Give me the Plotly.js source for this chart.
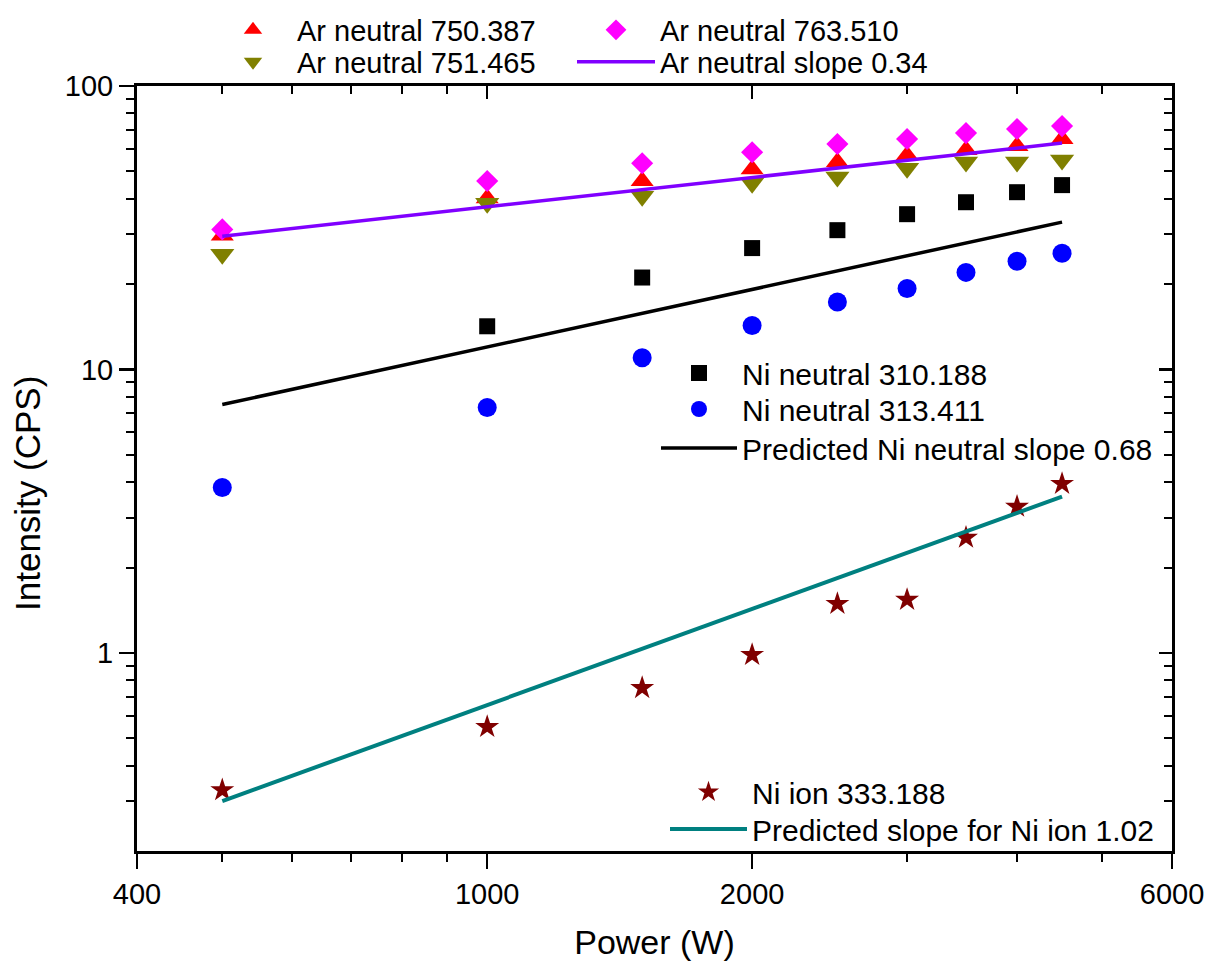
<!DOCTYPE html>
<html>
<head>
<meta charset="utf-8">
<script src="https://cdn.plot.ly/plotly-3.0.1.min.js"></script>
<style>
  html, body { margin: 0; padding: 0; background: #ffffff; }
  #chart { width: 1219px; height: 971px; }
</style>
</head>
<body>
<div id="chart"></div>
<script>
// ---- data ----
const power = [500, 1000, 1500, 2000, 2500, 3000, 3500, 4000, 4500];
const arNeutral750 = [29.7, 40.2, 46.2, 50.9, 53.9, 57.0, 59.4, 61.4, 65.0];
const arNeutral763 = [31.2, 46.2, 53.4, 58.4, 62.4, 65.0, 68.2, 70.5, 72.2];
const arNeutral751 = [25.5, 38.6, 40.8, 45.4, 47.7, 51.3, 53.9, 53.9, 54.8];
const niNeutral310 = [null, 14.2, 21.1, 26.8, 31.0, 35.3, 38.9, 42.2, 44.7];
const niNeutral313 = [3.83, 7.34, 11.0, 14.3, 17.3, 19.3, 22.0, 24.1, 25.7];
const niIon333 = [0.328, 0.548, 0.752, 0.984, 1.49, 1.54, 2.55, 3.28, 3.95];

const fitPower = [500, 4500];
const arSlopeFit = [29.5, 62.9];
const niNeutralSlopeFit = [7.52, 33.1];
const niIonSlopeFit = [0.300, 3.56];

const xTickVals = [400, 1000, 2000, 6000];
const xTickText = ['400', '1000', '2000', '6000'];
const xMinorVals = [500, 600, 700, 800, 900, 3000, 4000, 5000];
const yTickVals = [1, 10, 100];
const yTickText = ['1', '10', '100'];
const yMinorVals = [0.3, 0.4, 0.5, 0.6, 0.7, 0.8, 0.9, 2, 3, 4, 5, 6, 7, 8, 9, 20, 30, 40, 50, 60, 70, 80, 90];

const xTitle = 'Power (W)';
const yTitle = 'Intensity (CPS)';

const FONT = 'Liberation Sans, Arial, sans-serif';

function markers(name, y, symbol, color, size, legend) {
  return {
    type: 'scatter', mode: 'markers', name: name, x: power, y: y,
    marker: { symbol: symbol, color: color, size: size, line: { width: 0 } },
    legend: legend, cliponaxis: false
  };
}
function fitLine(name, y, color, width, legend) {
  return {
    type: 'scatter', mode: 'lines', name: name, x: fitPower, y: y,
    line: { color: color, width: width }, legend: legend
  };
}

const traces = [
  markers('Ar neutral 750.387', arNeutral750, 'triangle-up', '#FF0000', 20, 'legend'),
  markers('Ar neutral 763.510', arNeutral763, 'diamond', '#FF00FF', 17, 'legend2'),
  markers('Ar neutral 751.465', arNeutral751, 'triangle-down', '#808000', 21, 'legend3'),
  markers('Ni neutral 310.188', niNeutral310, 'square', '#000000', 16, 'legend5'),
  markers('Ni neutral 313.411', niNeutral313, 'circle', '#0000FF', 19, 'legend6'),
  markers('Ni ion 333.188', niIon333, 'star', '#800000', 18, 'legend8'),
  fitLine('Ar neutral slope 0.34', arSlopeFit, '#8000FF', 3.5, 'legend4'),
  fitLine('Predicted Ni neutral slope 0.68', niNeutralSlopeFit, '#000000', 3.5, 'legend7'),
  fitLine('Predicted slope for Ni ion 1.02', niIonSlopeFit, '#008080', 4, 'legend9'),
  { type: 'scatter', mode: 'markers', x: [], y: [], xaxis: 'x2', yaxis: 'y2', showlegend: false, hoverinfo: 'skip' }
];

const xRange = [Math.log10(400), Math.log10(6000)];
const yRange = [Math.log10(0.2), 2];

function py(p) { return (851 - p) / 765; }
function px(p) { return (p - 137) / 1035; }
function legendBox(startX, centerY, itemwidth, size) {
  return {
    x: px(startX), y: py(centerY), xanchor: 'left', yanchor: 'middle', orientation: 'v',
    bgcolor: 'rgba(0,0,0,0)', borderwidth: 0, itemwidth: itemwidth,
    font: { family: FONT, size: size, color: '#000000' }, tracegroupgap: 0
  };
}

const tickFont = { family: FONT, size: 29, color: '#000000' };

const layout = {
  width: 1219, height: 971,
  margin: { l: 137, r: 47, t: 86, b: 120, pad: 0, autoexpand: false },
  paper_bgcolor: '#ffffff', plot_bgcolor: '#ffffff',
  font: { family: FONT, size: 26, color: '#000000' },
  xaxis: {
    type: 'log', range: xRange, showgrid: false, zeroline: false,
    showline: true, linecolor: '#000000', linewidth: 3,
    ticks: 'outside', ticklen: 15, tickwidth: 2.5, tickcolor: '#000000',
    tickmode: 'array', tickvals: xTickVals, ticktext: xTickText,
    tickfont: tickFont,
    minor: { tickmode: 'array', tickvals: xMinorVals, ticks: 'outside', ticklen: 8, tickwidth: 2, tickcolor: '#000000', showgrid: false },
    title: { text: xTitle, font: { family: FONT, size: 34, color: '#000000' }, standoff: 22 }
  },
  yaxis: {
    type: 'log', range: yRange, showgrid: false, zeroline: false,
    showline: true, linecolor: '#000000', linewidth: 3,
    ticks: 'outside', ticklen: 15, tickwidth: 2.5, tickcolor: '#000000',
    tickmode: 'array', tickvals: yTickVals, ticktext: yTickText,
    tickfont: tickFont,
    minor: { tickmode: 'array', tickvals: yMinorVals, ticks: 'outside', ticklen: 8, tickwidth: 2, tickcolor: '#000000', showgrid: false }
  },
  xaxis2: {
    type: 'log', range: xRange, overlaying: 'x', side: 'top', anchor: 'y2',
    showgrid: false, zeroline: false, showline: true, linecolor: '#000000', linewidth: 3,
    ticks: 'inside', ticklen: 13, tickwidth: 2.5, tickcolor: '#000000',
    tickmode: 'array', tickvals: xTickVals, showticklabels: false,
    minor: { tickmode: 'array', tickvals: xMinorVals, ticks: 'inside', ticklen: 8, tickwidth: 2, tickcolor: '#000000', showgrid: false }
  },
  yaxis2: {
    type: 'log', range: yRange, overlaying: 'y', side: 'right', anchor: 'x2',
    showgrid: false, zeroline: false, showline: true, linecolor: '#000000', linewidth: 3,
    ticks: 'inside', ticklen: 13, tickwidth: 2.5, tickcolor: '#000000',
    tickmode: 'array', tickvals: yTickVals, showticklabels: false,
    minor: { tickmode: 'array', tickvals: yMinorVals, ticks: 'inside', ticklen: 8, tickwidth: 2, tickcolor: '#000000', showgrid: false }
  },
  annotations: [{
    text: yTitle, textangle: -90, xref: 'paper', yref: 'paper',
    x: px(27), y: py(494), xanchor: 'center', yanchor: 'middle', showarrow: false,
    font: { family: FONT, size: 35, color: '#000000' }
  }],
  legend: legendBox(209, 30, 78, 29),
  legend3: legendBox(209, 62, 78, 29),
  legend2: legendBox(572, 30, 78, 29),
  legend4: legendBox(572, 62, 78, 29),
  legend5: legendBox(656, 373, 76, 30),
  legend6: legendBox(656, 409, 76, 30),
  legend7: legendBox(656, 448, 76, 30),
  legend8: legendBox(665, 792, 77, 30),
  legend9: legendBox(665, 829, 77, 30),
  showlegend: true
};

Plotly.newPlot('chart', traces, layout, { displayModeBar: false, staticPlot: true });
</script>
</body>
</html>
